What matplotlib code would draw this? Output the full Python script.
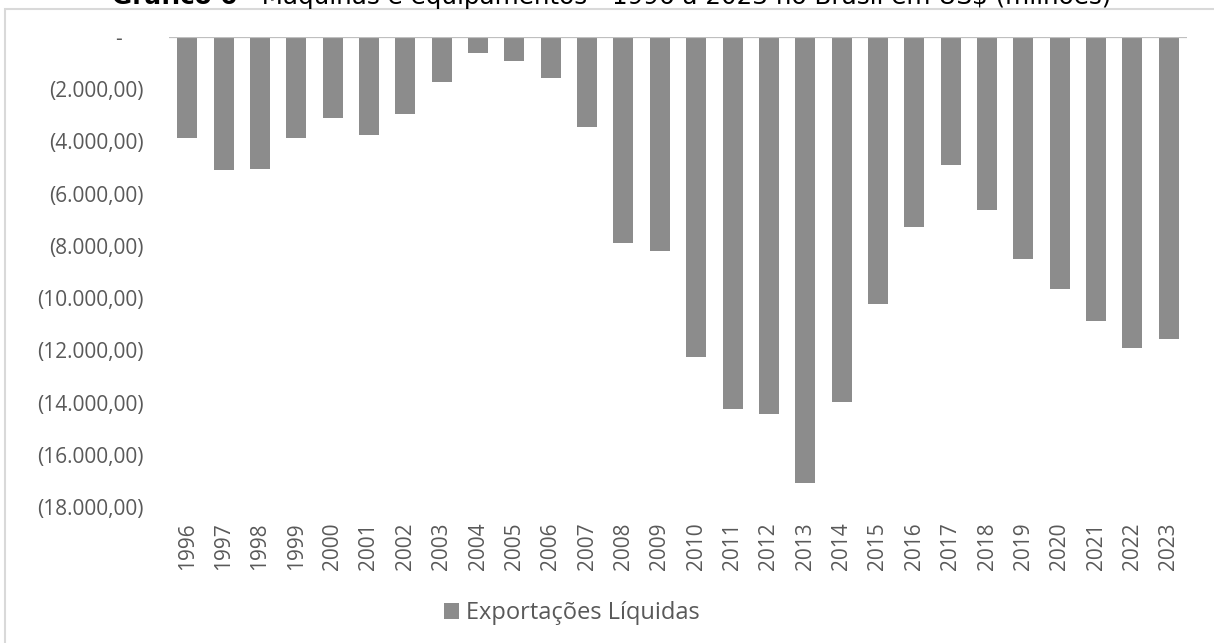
import matplotlib.pyplot as plt
from matplotlib.patches import Rectangle
from matplotlib.ticker import FuncFormatter, MultipleLocator

years = [str(y) for y in range(1996, 2024)]
net_exports = [
    -3880, -5090, -5055, -3856, -3090, -3753, -2960, -1736, -625, -906,
    -1557, -3434, -7876, -8210, -12256, -14235, -14426, -17070, -13990,
    -10214, -7265, -4902, -6614, -8502, -9664, -10864, -11911, -11580,
]

title_bold = "Gráfico 6"
title_rest = " - Máquinas e equipamentos - 1996 a 2023 no Brasil em US$ (milhões)"
series_name = "Exportações Líquidas"

text_color = "#595959"
bar_color = "#8c8c8c"

plt.rcParams["font.family"] = ["Open Sans", "DejaVu Sans"]

fig = plt.figure(figsize=(12.14, 6.43), dpi=100)
ax = fig.add_axes([169 / 1214, 1 - 507 / 643, 1018 / 1214, 470 / 643])

ax.bar(years, net_exports, width=0.55, color=bar_color, label=series_name, zorder=2)
ax.axhline(0, color="#bfbfbf", linewidth=1.6, zorder=3)

ax.set_ylim(-18000, 0)
ax.set_xlim(-0.5, len(years) - 0.5)
ax.yaxis.set_major_locator(MultipleLocator(2000))


def fmt(v, pos):
    if abs(v) < 1e-6:
        return "-    "
    s = f"{-v:,.2f}".replace(",", "X").replace(".", ",").replace("X", ".")
    return f"({s})"


ax.yaxis.set_major_formatter(FuncFormatter(fmt))
ax.tick_params(axis="y", length=0, pad=18, labelsize=15, labelcolor=text_color)
ax.tick_params(axis="x", length=0, pad=11, labelsize=15, labelcolor=text_color,
               labelrotation=90)
for s in ax.spines.values():
    s.set_visible(False)

leg = fig.legend(loc="center", bbox_to_anchor=(572 / 1214, 1 - 613 / 643),
                 frameon=False, fontsize=17, handlelength=0.65, handleheight=0.65,
                 handletextpad=0.3)
for t in leg.get_texts():
    t.set_color(text_color)

# chart area border
fig.patches.append(Rectangle((5 / 1214, -0.05), 1.1, 1.05 - 9 / 643,
                             transform=fig.transFigure, fill=False,
                             edgecolor="#d9d9d9", linewidth=1.5))

# title, clipped at the top edge as in the source image
renderer = fig.canvas.get_renderer()
t1 = fig.text(112 / 1214, 1 - 4 / 643, title_bold, ha="left", va="baseline",
              fontsize=17.7, fontweight="bold", color="black", family=["DejaVu Sans"])
bb = t1.get_window_extent(renderer)
fig.text(bb.x1 / fig.bbox.width, 1 - 4 / 643, title_rest, ha="left", va="baseline",
         fontsize=17.7, color="black", family=["DejaVu Sans"])

fig.savefig("out.png", dpi=100)
